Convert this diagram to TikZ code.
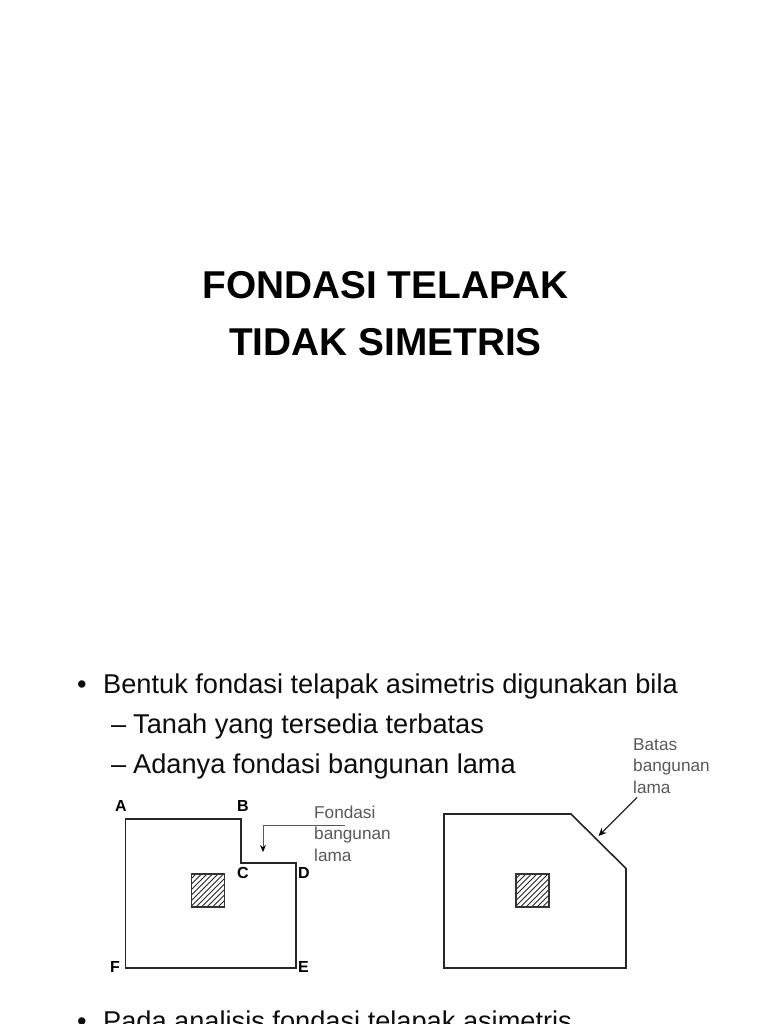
\documentclass[tikz,border=0pt]{standalone}
\usepackage{fontspec}
\setmainfont{Liberation Sans}
\usetikzlibrary{arrows.meta}
\tikzset{
 title/.style={font=\bfseries\fontsize{38.8}{38.8}\selectfont,text=black,inner sep=0pt,anchor=base},
 body/.style={font=\fontsize{27.2}{27.2}\selectfont,text=black!95,inner sep=0pt,anchor=base west},
 letter/.style={font=\bfseries\fontsize{16}{16}\selectfont,text=black,inner sep=0pt,anchor=base west},
 note/.style={font=\fontsize{17.2}{21.5}\selectfont,text=black!65,inner sep=0pt,anchor=base west,align=left},
 outline/.style={draw=black!85,line width=1.6pt,line join=miter},
 column/.style={draw=black!80,line width=1.3pt},
 hatch/.style={draw=black!85,line width=.9pt},
 leader/.style={draw=black!65,line width=1pt,-{Stealth[length=7pt,width=6pt,color=black]}},
 leaderdark/.style={draw=black!85,line width=1.2pt,-{Stealth[length=8pt,width=7pt,color=black]}},
}
\begin{document}
\begin{tikzpicture}[x=1pt,y=-1pt]
\useasboundingbox (0,0) rectangle (768,1024);
\clip (0,0) rectangle (768,1024);
\fill[white] (0,0) rectangle (768,1024);
\node[title] (t1) at (385.5,298) {FONDASI TELAPAK};
\node[title] (t2) at (385.5,355) {TIDAK SIMETRIS};
\node[body] (b1) at (77,693.5) {•};
\node[body] (b1t) at (103,693.5) {Bentuk fondasi telapak asimetris digunakan bila};
\node[body] (b2d) at (111,733) {–};
\node[body] (b2) at (133,733) {Tanah yang tersedia terbatas};
\node[body] (b3d) at (111,773) {–};
\node[body] (b3) at (133,773) {Adanya fondasi bangunan lama};
\node[body] (b4) at (77,1030) {•};
\node[body] (b4t) at (103,1030) {Pada analisis fondasi telapak asimetris};
\draw[outline] (125.5,819) -- (241,819) -- (241,863) -- (296,863) -- (296,968) -- (125.5,968) -- cycle;
\begin{scope}
\clip (191.5,874) rectangle (224.5,907);
\foreach \k in {0,5.5,...,72}{\draw[hatch] (191.5+\k-38,911) -- ++(40,-40);}
\end{scope}
\draw[column] (191.5,874) rectangle (224.5,907);
\draw[outline] (444,814) -- (571,814) -- (626,868.5) -- (626,968) -- (444,968) -- cycle;
\begin{scope}
\clip (516,874) rectangle (549,907);
\foreach \k in {0,5.5,...,72}{\draw[hatch] (516+\k-38,911) -- ++(40,-40);}
\end{scope}
\draw[column] (516,874) rectangle (549,907);
\node[letter] (A) at (115,811) {A};
\node[letter] (B) at (237,811) {B};
\node[letter] (C) at (237,878) {C};
\node[letter] (D) at (298,878) {D};
\node[letter] (E) at (298,972) {E};
\node[letter] (F) at (110,972) {F};
\node[note] (n1) at (314,861) {Fondasi\\bangunan\\lama};
\node[note] (n2) at (633,793) {Batas\\bangunan\\lama};
\coordinate (n1s) at (345,825);
\coordinate (n1t) at (263,852);
\coordinate (n2s) at (637,797.5);
\coordinate (n2t) at (598.5,836);
\draw[leader] (n1s) -| (n1t);
\draw[leaderdark] (n2s) -- (n2t);
\end{tikzpicture}
\end{document}
